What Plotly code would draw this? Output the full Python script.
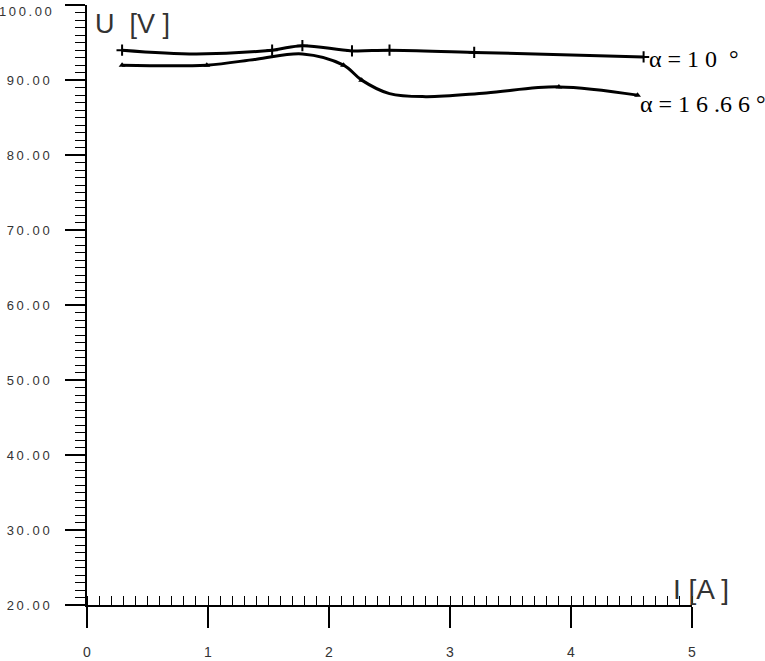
import plotly.graph_objects as go

# Curve shapes
top_x = [0.29, 0.9, 1.53, 1.78, 2.19, 2.5, 3.2, 4.6]
top_y = [94.0, 93.5, 94.0, 94.6, 93.9, 94.0, 93.7, 93.1]
top_mx = [0.29, 1.53, 1.78, 2.19, 2.5, 3.2, 4.6]
top_my = [94.0, 94.0, 94.6, 93.9, 94.0, 93.7, 93.1]

low_x = [0.29, 0.99, 1.4, 1.78, 2.12, 2.27, 2.5, 2.8, 3.3, 3.9, 4.55]
low_y = [92.0, 92.0, 92.8, 93.5, 92.0, 90.0, 88.2, 87.8, 88.3, 89.1, 88.0]
low_mx = [0.29, 0.99, 2.12, 2.27, 3.9, 4.55]
low_my = [92.0, 92.0, 92.0, 90.0, 89.1, 88.0]

T = "\u2009"
y_ticks = [20, 30, 40, 50, 60, 70, 80, 90, 100]
y_labels = ["20.00", "30.00", "40.00", "50.00", "60.00",
            "70.00", "80.00", "90.00", "100.00"]
y_ticktext = [T.join(s) for s in y_labels[:-1]] + [""]
x_ticks = [0, 1, 2, 3, 4, 5]
x_ticktext = ["0", "1", "2", "3", "4", "5"]

labels = ["α = 1 0  °", "α = 1 6 .6 6 °"]

fig = go.Figure()
fig.add_trace(go.Scatter(x=top_x, y=top_y, mode="lines",
                         line=dict(color="black", width=3, shape="spline", smoothing=1.0),
                         showlegend=False, hoverinfo="skip", cliponaxis=False))
fig.add_trace(go.Scatter(x=top_mx, y=top_my, mode="markers",
                         marker=dict(symbol="cross-thin", size=8, line=dict(color="black", width=2)),
                         showlegend=False, cliponaxis=False))
fig.add_trace(go.Scatter(x=low_x, y=low_y, mode="lines",
                         line=dict(color="black", width=3, shape="spline", smoothing=1.0),
                         showlegend=False, hoverinfo="skip", cliponaxis=False))
fig.add_trace(go.Scatter(x=low_mx, y=low_my, mode="markers",
                         marker=dict(symbol="triangle-up", size=6, color="black"),
                         showlegend=False, cliponaxis=False))

fig.add_annotation(x=top_x[-1], y=top_y[-1], text=labels[0], showarrow=False,
                   xanchor="left", yanchor="middle", xshift=3, yshift=-2,
                   font=dict(family="Liberation Serif", size=24, color="black"))
fig.add_annotation(x=low_x[-1], y=low_y[-1], text=labels[1], showarrow=False,
                   xanchor="left", yanchor="middle", xshift=0, yshift=-9,
                   font=dict(family="Liberation Serif", size=24, color="black"))

# top tick label, placed slightly lower so that it stays on the page
fig.add_annotation(xref="paper", yref="y", x=0, y=y_ticks[-1], text=T.join(y_labels[-1]),
                   showarrow=False, xanchor="right", yanchor="middle",
                   xshift=-33, yshift=-6,
                   font=dict(family="Liberation Sans", size=13, color="#333"))

fig.add_annotation(xref="paper", yref="paper", x=0.01, y=1.0, text="U  [V ]",
                   showarrow=False, xanchor="left", yanchor="top", yshift=-2,
                   font=dict(family="Liberation Sans", size=27, color="#333"))
fig.add_annotation(xref="paper", yref="paper", x=0.965, y=0.0, text="I [A ]",
                   showarrow=False, xanchor="left", yanchor="bottom", yshift=-2,
                   font=dict(family="Liberation Sans", size=28, color="#333"))

fig.update_layout(
    width=765, height=661,
    margin=dict(l=87, r=73, t=5, b=56, autoexpand=False),
    paper_bgcolor="white", plot_bgcolor="white",
    xaxis=dict(range=[0, 5], showgrid=False, zeroline=False, showline=True,
               linecolor="black", linewidth=1.5, automargin=False,
               tickmode="array", tickvals=x_ticks, ticktext=x_ticktext,
               ticks="outside", ticklen=21, tickwidth=1.5, tickcolor="black",
               ticklabelstandoff=12,
               tickfont=dict(family="Liberation Sans", size=14, color="#333"),
               minor=dict(dtick=0.1, ticks="inside", ticklen=9, tickwidth=1.2,
                          tickcolor="black", showgrid=False)),
    yaxis=dict(range=[20, 100.02], showgrid=False, zeroline=False, showline=True,
               linecolor="black", linewidth=1.5, automargin=False,
               tickmode="array", tickvals=y_ticks, ticktext=y_ticktext,
               ticks="outside", ticklen=20, tickwidth=1.5, tickcolor="black",
               ticklabelstandoff=13, ticklabeloverflow="allow",
               tickfont=dict(family="Liberation Sans", size=13, color="#333"),
               minor=dict(dtick=1, ticks="outside", ticklen=10, tickwidth=1.2,
                          tickcolor="black", showgrid=False)),
)

fig.write_html("out.html", config={"displayModeBar": False},
               post_script="document.body.style.margin='0';document.body.style.overflow='hidden';")
